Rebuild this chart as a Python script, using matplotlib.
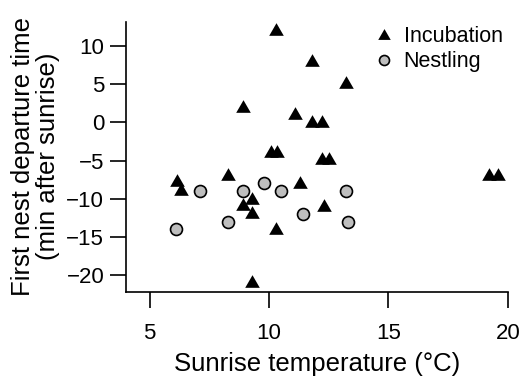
import matplotlib
matplotlib.use("Agg")
import matplotlib.pyplot as plt
from matplotlib.path import Path
from matplotlib.lines import Line2D

plt.rcParams['font.family'] = ['Liberation Sans', 'DejaVu Sans']

# incubation (triangles)
inc_temp = [6.15, 6.3, 8.3, 8.9, 8.9, 9.3, 9.3, 9.3, 10.1, 10.35, 10.3, 10.3,
            11.1, 11.3, 11.8, 11.8, 12.2, 12.2, 12.3, 12.5, 13.2, 19.2, 19.6]
inc_time = [-7.6, -8.7, -6.7, 2.2, -10.7, -9.9, -11.7, -20.8, -3.8, -3.8, 12.2, -13.8,
            1.2, -7.8, 8.2, 0.2, 0.2, -4.7, -10.8, -4.7, 5.3, -6.8, -6.8]

# nestling (circles)
nest_temp = [6.1, 7.1, 8.3, 8.9, 9.8, 10.5, 11.4, 13.2, 13.3]
nest_time = [-14, -9, -13, -9, -8, -9, -12, -9, -13]

x_ticks = [5, 10, 15, 20]
y_ticks = [-20, -15, -10, -5, 0, 5, 10]

# equilateral triangle like R's pch 17
tri = Path([(0, 0.866), (-1, -0.866), (1, -0.866), (0, 0.866)],
           [Path.MOVETO, Path.LINETO, Path.LINETO, Path.CLOSEPOLY])
grey = '#bebebe'

fig = plt.figure(figsize=(5.22, 3.80), dpi=100)
ax = fig.add_axes([0.241, 0.232, 0.732, 0.711])

ax.plot(inc_temp, inc_time, ls='none', marker=tri, markersize=10.5,
        color='black', markeredgewidth=0, clip_on=False)
ax.plot(nest_temp, nest_time, ls='none', marker='o', markersize=8.6,
        markerfacecolor=grey, markeredgecolor='black', markeredgewidth=1.2,
        clip_on=False)

ax.set_xlim(4.0, 20.0)
ax.set_ylim(-22.2, 13.2)
ax.set_xticks(x_ticks)
ax.set_yticks(y_ticks)
ax.set_yticklabels([str(v).replace('-', '\u2212') for v in y_ticks])

for s in ['top', 'right']:
    ax.spines[s].set_visible(False)
for s in ['left', 'bottom']:
    ax.spines[s].set_linewidth(1.2)
ax.tick_params(length=11.5, width=1.2, labelsize=16)
ax.tick_params(axis='x', pad=11)
ax.tick_params(axis='y', pad=4)

ax.set_xlabel('Sunrise temperature (°C)', fontsize=18.5, labelpad=6)
ax.set_ylabel('First nest departure time\n(min after sunrise)', fontsize=18.5,
              labelpad=4.5, linespacing=1.05)

handles = [Line2D([], [], ls='none', marker=tri, markersize=9, color='black',
                  markeredgewidth=0),
           Line2D([], [], ls='none', marker='o', markersize=7.2,
                  markerfacecolor=grey, markeredgecolor='black',
                  markeredgewidth=1.2)]
ax.legend(handles, ['Incubation', 'Nestling'], loc='upper left',
          bbox_to_anchor=(0.648, 0.985), frameon=False, fontsize=15.5,
          handlelength=1.0, handletextpad=0.4, labelspacing=0.22,
          borderpad=0, borderaxespad=0)

fig.savefig('out.png', dpi=100)
